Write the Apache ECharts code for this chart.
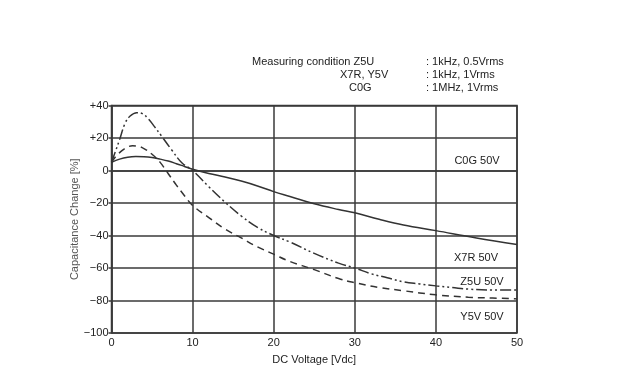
<!DOCTYPE html>
<html><head><meta charset="utf-8">
<script src="https://cdn.jsdelivr.net/npm/echarts@6/dist/echarts.min.js"></script>
<style>html,body{margin:0;padding:0;background:#fff}#c{width:619px;height:380px}</style>
</head><body><div id="c"></div>
<script>
// Data
const xTicks = [0, 10, 20, 30, 40, 50];
const yTicks = [-100, -80, -60, -40, -20, 0, 20, 40];
const yTickLabels = ['\u2212100', '\u221280', '\u221260', '\u221240', '\u221220', '0', '+20', '+40'];

// solid curve (X7R 50V)
const solidCurve = [[0,5],[1,7],[2,8.2],[3,8.6],[4,8.5],[5,8],[6,7],[7,5.8],[8,4.2],[9,2.5],[10,0.8],[12,-1.8],[14,-4],[16,-6.5],[18,-9.5],[20,-13],[22,-16],[25,-20.5],[28,-24],[30,-26],[33,-30],[36,-33.5],[40,-37],[45,-41.5],[50,-45.5]];
// dash-dot-dot curve (Z5U 50V)
const dashDotCurve = [[0,5],[0.5,12],[1,19],[1.67,29],[2.3,33.5],[3.1,35.6],[3.8,35],[4.5,32],[5.3,27],[6.2,21],[7.4,12.8],[8.7,4.6],[10,0],[12,-10],[14,-19.5],[16,-28],[18,-35],[20,-40],[22,-44],[25,-51],[28,-57],[30,-60],[32,-63.5],[34,-66],[36,-68.5],[38,-69.8],[40,-71],[42,-72],[44,-73],[47,-73.5],[50,-73.5]];
// dashed curve (Y5V 50V)
const dashedCurve = [[0,5],[0.5,8.5],[1,11],[1.5,13],[2,14.5],[2.6,15.2],[3.2,15],[4,13.5],[5,10],[6,5],[7,-2],[8,-9],[9,-15.5],[10,-21.5],[12,-29],[14,-36],[16,-41.5],[18,-47],[20,-51.5],[22,-56],[25,-61],[28,-66.5],[30,-69],[33,-72],[36,-74],[40,-76.5],[44,-78],[47,-78.5],[50,-79]];

const seriesLabels = ['C0G 50V', 'X7R 50V', 'Z5U 50V', 'Y5V 50V'];
const conditionNames = ['Measuring condition Z5U', 'X7R, Y5V', 'C0G'];
const conditionValues = [': 1kHz, 0.5Vrms', ': 1kHz, 1Vrms', ': 1MHz, 1Vrms'];

const FONT = 'Liberation Sans, Arial, sans-serif';
const INK = '#222';
const GRID = '#3a3a3a';

const chart = echarts.init(document.getElementById('c'), null, {renderer: 'canvas'});
const txt = (x, y, s, align) => ({type: 'text', x, y, style: {text: s, fill: INK, font: '11px ' + FONT, textAlign: align || 'left', textVerticalAlign: 'middle'}});

chart.setOption({
  animation: false,
  backgroundColor: '#fff',
  grid: {left: 111.5, right: 102, top: 105.5, bottom: 47, show: true, borderColor: GRID, borderWidth: 1.5},
  xAxis: {
    type: 'value', min: xTicks[0], max: xTicks[xTicks.length-1], interval: 10,
    name: 'DC Voltage [Vdc]', nameLocation: 'middle', nameGap: 21,
    nameTextStyle: {fontFamily: FONT, fontSize: 11, color: INK},
    axisLine: {show: true, lineStyle: {color: GRID, width: 1.5}},
    axisTick: {show: false},
    axisLabel: {fontFamily: FONT, fontSize: 11, color: INK, margin: 4},
    splitLine: {show: true, lineStyle: {color: GRID, width: 1.5}}
  },
  yAxis: {
    type: 'value', min: yTicks[0], max: yTicks[yTicks.length-1], interval: 20,
    name: 'Capacitance Change [%]', nameLocation: 'middle', nameGap: 31, nameRotate: 90,
    nameMoveOverlap: false,
    nameTextStyle: {fontFamily: FONT, fontSize: 11, color: '#555'},
    axisLine: {show: true, lineStyle: {color: GRID, width: 1.5}},
    axisTick: {show: true, inside: false, length: 3, lineStyle: {color: GRID, width: 1.5}},
    axisLabel: {fontFamily: FONT, fontSize: 11, color: INK, margin: 3,
      formatter: v => yTickLabels[yTicks.indexOf(v)]},
    splitLine: {show: true, lineStyle: {color: GRID, width: 1.5}}
  },
  series: [
    {type: 'line', name: 'X7R', data: solidCurve, smooth: 0.4, showSymbol: false,
     lineStyle: {color: '#333', width: 1.5, type: 'solid'}},
    {type: 'line', name: 'Z5U', data: dashDotCurve, smooth: 0.4, showSymbol: false,
     lineStyle: {color: '#333', width: 1.5, type: [11, 3, 2, 3, 2, 3]}},
    {type: 'line', name: 'Y5V', data: dashedCurve, smooth: 0.4, showSymbol: false,
     lineStyle: {color: '#333', width: 1.5, type: [7, 5]}}
  ],
  graphic: [
    txt(252, 62, conditionNames[0]),
    txt(340, 75, conditionNames[1]),
    txt(349, 88, conditionNames[2]),
    txt(426, 62, conditionValues[0]),
    txt(426, 75, conditionValues[1]),
    txt(426, 88, conditionValues[2]),
    txt(477, 161, seriesLabels[0], 'center'),
    txt(476, 258, seriesLabels[1], 'center'),
    txt(482, 282, seriesLabels[2], 'center'),
    txt(482, 317, seriesLabels[3], 'center')
  ]
});
</script></body></html>
